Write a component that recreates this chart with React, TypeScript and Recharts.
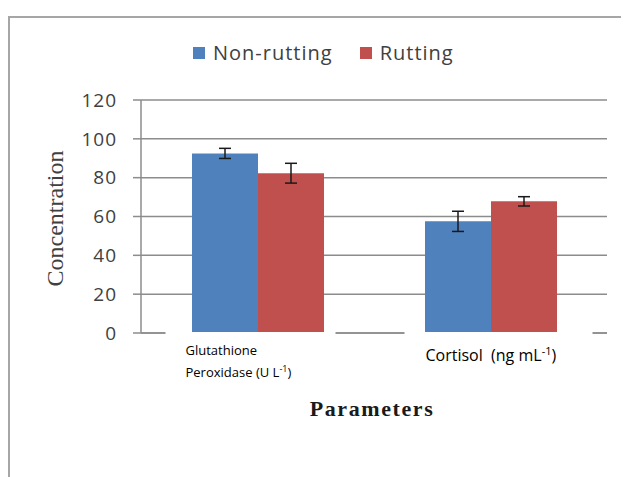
import React from 'react';
import { BarChart, Bar, XAxis, YAxis, CartesianGrid, Legend, ErrorBar } from 'recharts';

const categories = ['Glutathione Peroxidase', 'Cortisol'];
const nonRutting = [92.5, 57.5];
const nonRuttingErr = [2.6, 5.2];
const rutting = [82.3, 67.8];
const ruttingErr = [5.1, 2.4];
const yTicks = [0, 20, 40, 60, 80, 100, 120];

const data = categories.map((name, i) => ({
  name,
  nonRutting: nonRutting[i],
  nonRuttingErr: nonRuttingErr[i],
  rutting: rutting[i],
  ruttingErr: ruttingErr[i],
}));

const BLUE = '#4F81BD';
const RED = '#C0504D';
const GRID = '#8c8c8c';
const SANS = '"Open Sans", Lato, sans-serif';
const SERIF = '"Liberation Serif", "DejaVu Serif", serif';

// Excel-style label boxes: white background covers the zero line under the text
function CategoryTick({ x, y, payload }: any) {
  if (payload.value === 'Glutathione Peroxidase') {
    return (
      <g>
        <rect x={x - 92} y={y - 1} width={170} height={52} fill="#fff" />
        <text x={x - 72} y={y + 22} fontSize={13} fontFamily={SANS} fill="#000">
          Glutathione
        </text>
        <text x={x - 72} y={y + 44} fontSize={13} fontFamily={SANS} fill="#000">
          Peroxidase (U L<tspan dy={-5} fontSize={9}>-1</tspan>
          <tspan dy={5}>)</tspan>
        </text>
      </g>
    );
  }
  return (
    <g>
      <rect x={x - 86} y={y - 1} width={188} height={40} fill="#fff" />
      <text x={x - 65} y={y + 28} fontSize={16} fontFamily={SANS} fill="#000">
        {'Cortisol\u00a0\u00a0(ng mL'}
        <tspan dy={-6} fontSize={11}>-1</tspan>
        <tspan dy={6}>)</tspan>
      </text>
    </g>
  );
}

function LegendContent() {
  const items = [
    { label: 'Non-rutting', color: BLUE },
    { label: 'Rutting', color: RED },
  ];
  return (
    <div
      style={{
        display: 'flex',
        alignItems: 'center',
        fontFamily: SANS,
        fontSize: 20,
        letterSpacing: 1,
        color: '#404040',
      }}
    >
      {items.map((it, i) => (
        <div key={it.label} style={{ display: 'flex', alignItems: 'center', marginRight: i === 0 ? 27 : 0 }}>
          <div style={{ width: 12, height: 12, background: it.color, marginRight: 8 }} />
          <span>{it.label}</span>
        </div>
      ))}
    </div>
  );
}

export default function App() {
  return (
    <div style={{ position: 'relative', width: 621, height: 469 }}>
      <div
        style={{
          position: 'absolute',
          left: 0,
          top: 8,
          width: 619,
          height: 459,
          borderTop: '2px solid #a6a6a6',
          borderLeft: '2px solid #a6a6a6',
        }}
      />
      <BarChart
        width={621}
        height={469}
        data={data}
        margin={{ top: 92, right: 22, bottom: 114, left: 0 }}
        barGap={0}
        barSize={66}
        style={{ position: 'absolute', left: 0, top: 0 }}
      >
        <CartesianGrid horizontal vertical={false} stroke={GRID} strokeWidth={1.5} />
        <XAxis
          dataKey="name"
          height={30}
          axisLine={{ stroke: GRID, strokeWidth: 1.5 }}
          tickLine={false}
          tickSize={0}
          tickMargin={0}
          interval={0}
          tick={<CategoryTick />}
          label={{
            content: (props: any) => {
              const vb = props.viewBox;
              return (
                <text
                  x={vb.x + vb.width / 2 - 2}
                  y={408}
                  textAnchor="middle"
                  fontFamily={SERIF}
                  fontWeight="bold"
                  fontSize={22}
                  letterSpacing={1.6}
                  fill="#1a1a1a"
                >
                  Parameters
                </text>
              );
            },
          }}
        />
        <YAxis
          width={133}
          domain={[0, 120]}
          ticks={yTicks}
          axisLine={{ stroke: GRID, strokeWidth: 1.5 }}
          tickLine={{ stroke: GRID, strokeWidth: 1.5 }}
          tickSize={8}
          tickMargin={16}
          tick={{ fill: '#404040', fontSize: 19, fontFamily: SANS, letterSpacing: 1 }}
          label={{
            content: (props: any) => {
              const vb = props.viewBox;
              const cy = vb.y + vb.height / 2 + 2;
              return (
                <text
                  x={47}
                  y={cy}
                  transform={`rotate(-90 47 ${cy})`}
                  textAnchor="middle"
                  dominantBaseline="central"
                  fontFamily={SERIF}
                  fontSize={24}
                  fill="#404040"
                >
                  Concentration
                </text>
              );
            },
          }}
        />
        <Legend
          layout="horizontal"
          verticalAlign="middle"
          align="center"
          content={<LegendContent />}
          wrapperStyle={{ top: 31, left: 185, width: 'auto' }}
        />
        <Bar dataKey="nonRutting" name="Non-rutting" fill={BLUE} isAnimationActive={false}>
          <ErrorBar dataKey="nonRuttingErr" width={6} stroke="#1a1a1a" strokeWidth={1.5} direction="y" />
        </Bar>
        <Bar dataKey="rutting" name="Rutting" fill={RED} isAnimationActive={false}>
          <ErrorBar dataKey="ruttingErr" width={6} stroke="#1a1a1a" strokeWidth={1.5} direction="y" />
        </Bar>
      </BarChart>
    </div>
  );
}
